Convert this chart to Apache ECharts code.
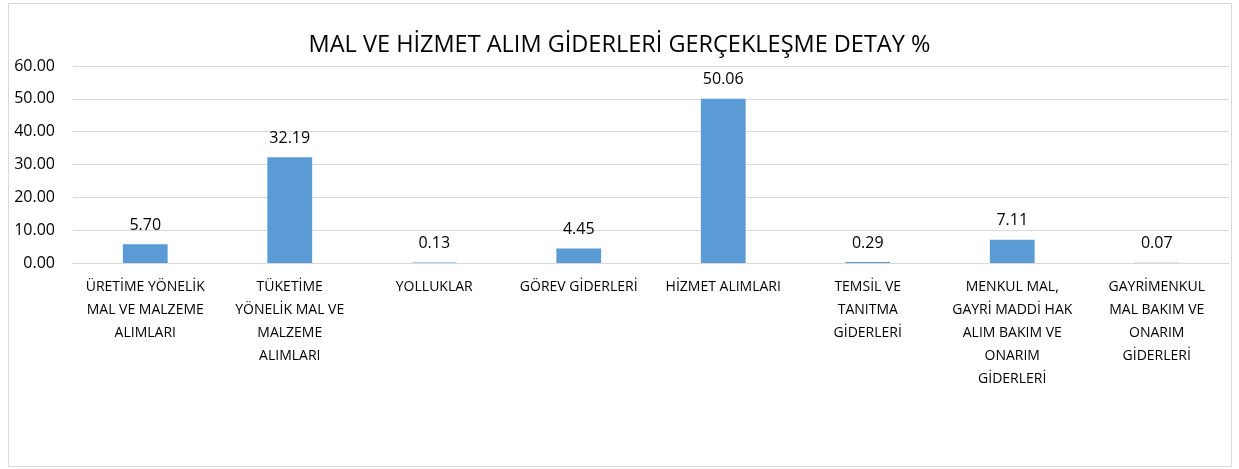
<!DOCTYPE html>
<html>
<head>
<meta charset="utf-8">
<script src="https://cdn.jsdelivr.net/npm/echarts@6/dist/echarts.min.js"></script>
<style>
  html, body { margin: 0; padding: 0; background: #fff; }
  #chart { width: 1239px; height: 469px; }
</style>
</head>
<body>
<div id="chart"></div>
<script>
const title = "MAL VE HİZMET ALIM GİDERLERİ GERÇEKLEŞME DETAY %";

const categories = [
  "ÜRETİME YÖNELİK\nMAL VE MALZEME\nALIMLARI",
  "TÜKETİME\nYÖNELİK MAL VE\nMALZEME\nALIMLARI",
  "YOLLUKLAR",
  "GÖREV GİDERLERİ",
  "HİZMET ALIMLARI",
  "TEMSİL VE\nTANITMA\nGİDERLERİ",
  "MENKUL MAL,\nGAYRİ MADDİ HAK\nALIM BAKIM VE\nONARIM\nGİDERLERİ",
  "GAYRİMENKUL\nMAL BAKIM VE\nONARIM\nGİDERLERİ"
];

const values = [5.70, 32.19, 0.13, 4.45, 50.06, 0.29, 7.11, 0.07];

const yMin = 0;
const yMax = 60;
const yStep = 10;

const font = "'Open Sans', 'Noto Sans', sans-serif";

const chartDom = document.getElementById("chart");
let myChart = echarts.init(chartDom);
let option;

option = {
  animation: false,
  backgroundColor: "#fff",
  title: {
    text: title,
    left: "center",
    top: 28,
    textStyle: {
      fontFamily: font,
      fontWeight: "normal",
      fontSize: 23.5,
      color: "#000"
    }
  },
  graphic: [
    {
      type: "rect",
      shape: { x: 8.5, y: 3.5, width: 1223, height: 463 },
      style: { fill: "none", stroke: "#d9d9d9", lineWidth: 1 },
      silent: true
    }
  ],
  grid: {
    left: 73,
    right: 10,
    top: 66,
    height: 197
  },
  xAxis: {
    type: "category",
    data: categories,
    axisTick: { show: false },
    axisLine: { show: true, lineStyle: { color: "#d9d9d9", width: 1 } },
    axisLabel: {
      interval: 0,
      margin: 13,
      fontFamily: font,
      fontSize: 14,
      lineHeight: 23,
      color: "#000",
      align: "center"
    }
  },
  yAxis: {
    type: "value",
    min: yMin,
    max: yMax,
    interval: yStep,
    axisLine: { show: false },
    axisTick: { show: false },
    splitLine: { lineStyle: { color: "#d9d9d9", width: 1 } },
    axisLabel: {
      margin: 18,
      fontFamily: font,
      fontSize: 16,
      color: "#000",
      formatter: (v) => v.toFixed(2)
    }
  },
  series: [
    {
      type: "bar",
      data: values,
      barWidth: "31%",
      itemStyle: { color: "#5b9bd5" },
      label: {
        show: true,
        position: "top",
        distance: 11,
        fontFamily: font,
        fontSize: 16,
        color: "#000",
        formatter: (p) => p.value.toFixed(2)
      }
    }
  ]
};

option && myChart.setOption(option);
</script>
</body>
</html>
